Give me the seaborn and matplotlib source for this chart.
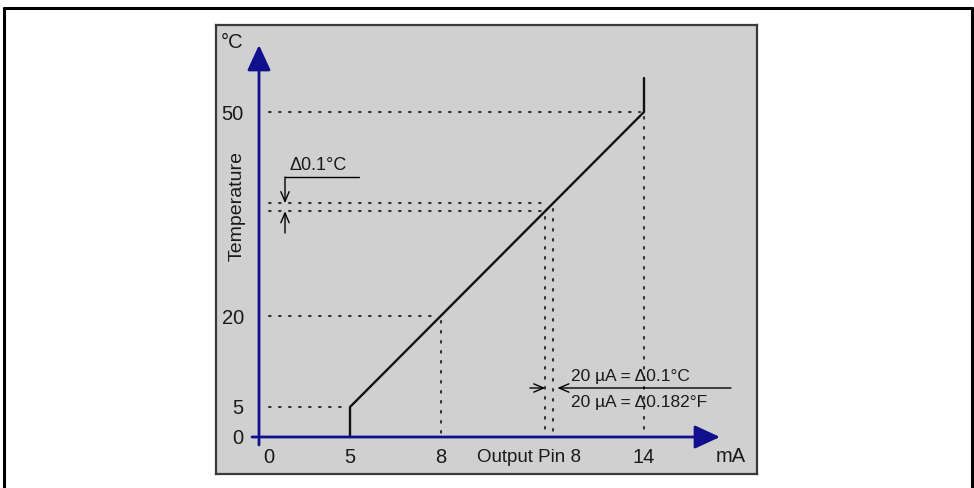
import numpy as np
import matplotlib
matplotlib.use("Agg")
import matplotlib.pyplot as plt
from matplotlib.lines import Line2D
import seaborn as sns

# Sensor transfer curve: output current (mA) vs. temperature (°C)
current_mA = [5, 5, 14, 14]
temp_C = [0, 5, 50, 55]

# Axis ticks
x_ticks = [0, 5, 8, 14]
x_tick_labels = ["0", "5", "8", "14"]
y_ticks = [0, 5, 20, 50]
y_tick_labels = ["0", "5", "20", "50"]

# Reference temperatures traced with dotted guides
guide_temps = [5, 20, 50]
resolution_temps = [35.4, 36.6]  # exaggerated 0.1 °C step

sns.set_theme(style="white")
plt.rcParams["font.family"] = ["Liberation Sans", "DejaVu Sans"]

BLUE = "#10108e"
INK = "#1a1a1a"
PANEL = "#d0d0d0"

W, H = 974, 488
fig = plt.figure(figsize=(W / 100, H / 100), dpi=100)

# Outer frame (open at the bottom)
for xs, ys in [([4 / W, 4 / W], [0, 1 - 8 / H]),
               ([4 / W, 972 / W], [1 - 8 / H, 1 - 8 / H]),
               ([972 / W, 972 / W], [0, 1 - 8 / H])]:
    fig.add_artist(Line2D(xs, ys, transform=fig.transFigure, color="black", lw=2.2))

# Gray panel holding the schematic axes
L, R, T, B = 216, 757, 25, 474
ax = fig.add_axes([L / W, 1 - B / H, (R - L) / W, (B - T) / H])
ax.set_facecolor(PANEL)
for s in ax.spines.values():
    s.set_color("#3a3a3a")
    s.set_linewidth(1.6)


def piecewise(src, dst):
    src = np.asarray(src, float)
    dst = np.asarray(dst, float)
    k0 = (dst[1] - dst[0]) / (src[1] - src[0])
    k1 = (dst[-1] - dst[-2]) / (src[-1] - src[-2])

    def f(v):
        v = np.asarray(v, float)
        out = np.interp(v, src, dst)
        out = np.where(v < src[0], dst[0] + (v - src[0]) * k0, out)
        out = np.where(v > src[-1], dst[-1] + (v - src[-1]) * k1, out)
        return out
    return f


# Schematic (non-uniform) scales: each tick gets its own screen spacing
x_pos = [269, 350, 441, 644]
y_pos = [0, 30, 121, 325]
fx, ix = piecewise(x_ticks, x_pos), piecewise(x_pos, x_ticks)
fy, iy = piecewise(y_ticks, y_pos), piecewise(y_pos, y_ticks)
ax.set_xscale("function", functions=(fx, ix))
ax.set_yscale("function", functions=(fy, iy))
ax.set_xlim(float(ix(L)), float(ix(R)))
ax.set_ylim(float(iy(437 - B)), float(iy(437 - T)))

# Transfer curve
sns.lineplot(x=current_mA, y=temp_C, ax=ax, color="#111111", lw=1.7,
             sort=False, estimator=None)

dot = dict(color="#333333", lw=1.5, linestyle=(0, (0.8, 4.0)),
           dash_capstyle="round")


def current_at(t):
    return float(np.interp(t, temp_C[1:], current_mA[1:]))


for t in guide_temps + resolution_temps:
    i = current_at(t)
    ax.plot([0, i - 0.12], [t, t], **dot)
    if t != 5:
        ax.plot([i, i], [t - 0.8, 0], **dot)


def fx_frac(px):
    return (px - L) / (R - L)


def fy_frac(py):
    return (B - py) / (B - T)


# Axes arrows
arrow = dict(arrowstyle="-|>,head_length=1.3,head_width=0.6", color=BLUE,
             lw=2, shrinkA=0, shrinkB=0, mutation_scale=12)
ax.annotate("", xy=(fx_frac(720), 0), xycoords=("axes fraction", "data"),
            xytext=(fx_frac(252), 0), textcoords=("axes fraction", "data"),
            arrowprops=arrow)
ax.annotate("", xy=(fx_frac(259), fy_frac(45)), xycoords="axes fraction",
            xytext=(fx_frac(259), fy_frac(445)), textcoords="axes fraction",
            arrowprops=arrow)

# Ticks drawn inside the panel
ax.set_xticks(x_ticks, x_tick_labels)
ax.set_yticks(y_ticks, y_tick_labels)
ax.tick_params(axis="x", length=0, pad=-19, labelsize=14.5, labelcolor=INK)
ax.tick_params(axis="y", length=0, pad=-20, labelsize=14.5, labelcolor=INK)

tA = ax.transAxes
ax.text(fx_frac(232), fy_frac(43), "°C", ha="center", va="center", fontsize=14.5,
        color=INK, transform=tA)
ax.text(fx_frac(237), fy_frac(206), "Temperature", ha="center", va="center",
        rotation=90, fontsize=14, color=INK, transform=tA)
ax.text(fx_frac(529), fy_frac(462), "Output Pin 8", ha="center", va="baseline",
        fontsize=13.5, color=INK, transform=tA)
ax.text(fx_frac(731), fy_frac(462), "mA", ha="center", va="baseline", fontsize=14.5,
        color=INK, transform=tA)

# 0.1 °C resolution marker
small_arrow = dict(arrowstyle="->,head_length=0.7,head_width=0.3", color="black",
                   lw=1, shrinkA=0, shrinkB=0, mutation_scale=10)
ax.plot([fx_frac(285), fx_frac(359)], [fy_frac(177), fy_frac(177)],
        transform=tA, color="black", lw=1)
ax.annotate("", xy=(fx_frac(285), resolution_temps[1]), xycoords=("axes fraction", "data"),
            xytext=(fx_frac(285), fy_frac(177)), textcoords="axes fraction",
            arrowprops=small_arrow)
ax.annotate("", xy=(fx_frac(285), resolution_temps[0]), xycoords=("axes fraction", "data"),
            xytext=(fx_frac(285), fy_frac(233)), textcoords="axes fraction",
            arrowprops=small_arrow)
ax.text(fx_frac(290), fy_frac(165), "Δ0.1°C", ha="left", va="center",
        fontsize=13, color=INK, transform=tA)

# 20 µA current step marker
i_lo, i_hi = current_at(resolution_temps[0]), current_at(resolution_temps[1])
ay = fy_frac(388)
ax.annotate("", xy=(i_lo, ay), xycoords=("data", "axes fraction"),
            xytext=(-11, 0), textcoords="offset points", arrowprops=small_arrow)
ax.annotate("", xy=(i_hi + 0.12, ay), xycoords=("data", "axes fraction"),
            xytext=(fx_frac(731), ay), textcoords="axes fraction", arrowprops=small_arrow)
ax.text(fx_frac(571), fy_frac(377), "20 µA = Δ0.1°C", ha="left", va="center",
        fontsize=12.5, color=INK, transform=tA)
ax.text(fx_frac(571), fy_frac(403), "20 µA = Δ0.182°F", ha="left", va="center",
        fontsize=12.5, color=INK, transform=tA)

ax.set_xlabel("")
ax.set_ylabel("")
fig.savefig("out.png", dpi=100, facecolor="white")
